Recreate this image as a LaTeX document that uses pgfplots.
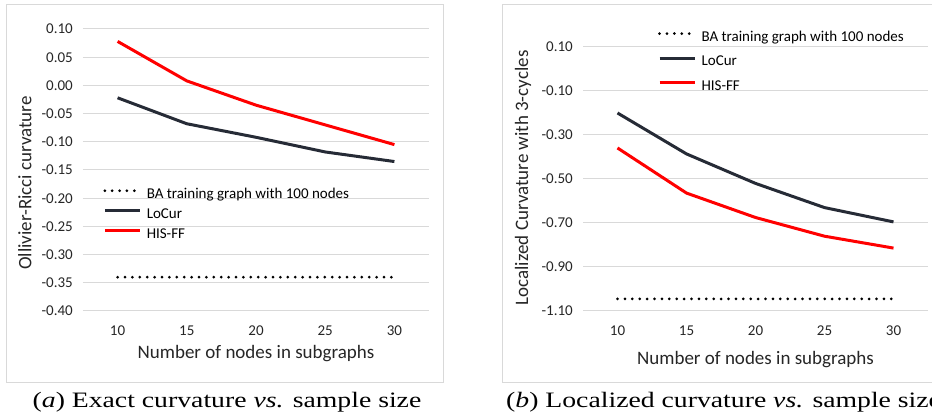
\documentclass[border=0pt]{standalone}
\usepackage{pgfplots}
\pgfplotsset{compat=1.18}
\usepackage{fontspec}
\setmainfont{Carlito}
\newfontfamily\capfont{Liberation Serif}

\definecolor{locur}{HTML}{262B36}
\definecolor{hisff}{HTML}{FF0000}
\definecolor{gridgray}{HTML}{D9D9D9}
\definecolor{boxgray}{HTML}{D9D9D9}
\definecolor{ticktext}{HTML}{262626}

\pgfplotsset{
  excelstyle/.style={
    scale only axis, anchor=south west,
    xmin=7.5, xmax=32.5, xtick={10,15,20,25,30},
    xticklabels={10,15,20,25,30},
    axis line style={draw=none}, major tick length=0pt,
    ymajorgrids, grid style={gridgray, line width=1pt},
    tick label style={font=\fontsize{15}{18}\selectfont, text=ticktext},
    yticklabel style={inner xsep=0pt, xshift=-10pt},
    xticklabel style={inner ysep=0pt, yshift=-15pt},
    label style={font=\fontsize{19}{22}\selectfont, text=ticktext},
    legend cell align=left,
    legend style={draw=none, fill=none, anchor=north west, inner sep=0pt,
      font=\fontsize{15}{18}\selectfont,
      nodes={inner sep=0pt, text height=10pt, text depth=3pt}},
    legend image code/.code={
      \draw[#1] (0pt,4pt) -- (35pt,4pt);
      \path[draw=none, fill=none] (0pt,4pt) -- (42pt,4pt);},
  },
  badots/.style={black, line width=3pt, line cap=round, dash pattern=on 0pt off 7.4pt},
  curve/.style={line width=3pt, line join=round},
}

\begin{document}
\begin{tikzpicture}
\useasboundingbox (0pt,0pt) rectangle (932pt,417pt);
\clip (0pt,0pt) rectangle (932pt,417pt);

% panel frames
\draw[boxgray, line width=1pt] (6pt,34pt) rectangle (443pt,412pt);
\draw[boxgray, line width=1pt] (502pt,34pt) rectangle (950pt,412pt);

% (a) exact curvature
\begin{axis}[excelstyle,
    at={(83pt,106pt)}, width=346pt, height=282pt,
    ymin=-0.4, ymax=0.1,
    ytick={-0.40,-0.35,-0.30,-0.25,-0.20,-0.15,-0.10,-0.05,0.00,0.05,0.10},
    yticklabels={-0.40,-0.35,-0.30,-0.25,-0.20,-0.15,-0.10,-0.05,0.00,0.05,0.10},
    xlabel={Number of nodes in subgraphs},
    ylabel={Ollivier-Ricci curvature},
    xlabel style={at={(axis description cs:0.5,-0.152)}, anchor=center},
    ylabel style={at={(axis description cs:-0.168,0.454)}, anchor=center},
    legend style={at={(axis description cs:0.058,0.436)}, row sep=7pt},
  ]
  \addplot[badots] coordinates {(10,-0.34) (30,-0.34)};
  \addlegendentry{BA training graph with 100 nodes}
  \addplot[curve, locur] coordinates {
    (10,-0.022) (15,-0.068) (20,-0.092) (25,-0.118) (30,-0.135)};
  \addlegendentry{LoCur}
  \addplot[curve, hisff] coordinates {
    (10,0.078) (15,0.008) (20,-0.035) (25,-0.070) (30,-0.105)};
  \addlegendentry{HIS-FF}
\end{axis}

% (b) localized curvature
\begin{axis}[excelstyle,
    at={(583pt,106pt)}, width=345pt, height=264pt,
    ymin=-1.1, ymax=0.1,
    ytick={-1.10,-0.90,-0.70,-0.50,-0.30,-0.10,0.10},
    yticklabels={-1.10,-0.90,-0.70,-0.50,-0.30,-0.10,0.10},
    xlabel={Number of nodes in subgraphs},
    ylabel={Localized Curvature with 3-cycles},
    xlabel style={at={(axis description cs:0.5,-0.182)}, anchor=center},
    ylabel style={at={(axis description cs:-0.174,0.504)}, anchor=center},
    legend style={at={(axis description cs:0.217,1.061)}, row sep=11.5pt},
  ]
  \addplot[badots] coordinates {(10,-1.045) (30,-1.045)};
  \addlegendentry{BA training graph with 100 nodes}
  \addplot[curve, locur] coordinates {
    (10,-0.200) (15,-0.386) (20,-0.520) (25,-0.630) (30,-0.695)};
  \addlegendentry{LoCur}
  \addplot[curve, hisff] coordinates {
    (10,-0.359) (15,-0.564) (20,-0.675) (25,-0.760) (30,-0.814)};
  \addlegendentry{HIS-FF}
\end{axis}

% captions
\node[anchor=base, inner sep=0pt] at (227pt,9pt)
  {\scalebox{1.26}[1]{\capfont\fontsize{22}{26}\selectfont (\textit{a}) Exact curvature \textit{vs.} sample size}};
\node[anchor=base west, inner sep=0pt] at (506pt,9pt)
  {\scalebox{1.26}[1]{\capfont\fontsize{22}{26}\selectfont (\textit{b}) Localized curvature \textit{vs.} sample size}};
\end{tikzpicture}
\end{document}
